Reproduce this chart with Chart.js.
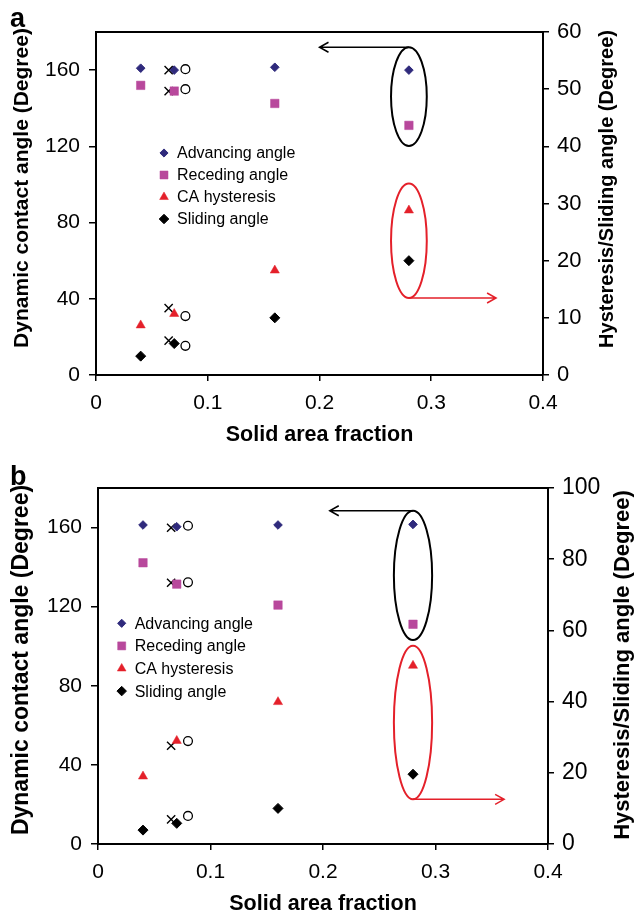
<!DOCTYPE html>
<html>
<head>
<meta charset="utf-8">
<script src="https://cdn.jsdelivr.net/npm/chart.js@4.4.0/dist/chart.umd.min.js"></script>
<style>
html, body { margin: 0; padding: 0; width: 634px; height: 912px; overflow: hidden; background: #fff; }
canvas { position: absolute; left: 0; }
</style>
</head>
<body>
<canvas id="chartA" width="634" height="450" style="top:0;width:634px;height:450px"></canvas>
<canvas id="chartB" width="634" height="480" style="top:450px;width:634px;height:480px"></canvas>
<script>
const FONT = '"Liberation Sans", Arial, Helvetica, sans-serif';
const NAVY = '#2f2a7c', PINK = '#b8489c', RED = '#e4202a', BLACK = '#000';

// panel a
const fractionA = [0.04, 0.07, 0.16, 0.28];
const advancingA = [161, 160, 161.5, 160];
const recedingA = [152, 149, 142.5, 131];
const hysteresisA = [8.7, 10.7, 18.3, 28.8];   // right axis
const slidingA = [3.3, 5.5, 10, 20];           // right axis
const crossXA = 0.065, crossLeftA = [160, 149], crossRightA = [11.7, 6];
const circleXA = 0.08, circleLeftA = [160.5, 150], circleRightA = [10.3, 5.1];

// panel b
const fractionB = [0.04, 0.07, 0.16, 0.28];
const advancingB = [161.3, 160.4, 161.3, 161.6];
const recedingB = [142.2, 131.4, 120.8, 111.1];
const hysteresisB = [19, 29, 39.9, 50.1];
const slidingB = [3.9, 5.8, 10, 19.6];
const crossXB = 0.065, crossLeftB = [159.9, 132.1], crossRightB = [27.6, 6.9];
const circleXB = 0.08, circleLeftB = [160.9, 132.3], circleRightB = [28.9, 7.9];

const xTicks = [0, 0.1, 0.2, 0.3, 0.4];
const legendNames = ['Advancing angle', 'Receding angle', 'CA hysteresis', 'Sliding angle'];
const leftTitle = 'Dynamic contact angle (Degree)';
const rightTitle = 'Hysteresis/Sliding angle (Degree)';

function pts(xs, ys) {
  return ys.map((y, i) => ({x: Array.isArray(xs) ? xs[i] : xs, y: y}));
}

function buildChart(id, p) {
  const datasets = [
    {label: legendNames[0], data: pts(p.fraction, p.advancing), yAxisID: 'y', pointStyle: 'rectRot', pointRadius: 4.3, backgroundColor: NAVY, borderColor: NAVY, borderWidth: 1},
    {label: legendNames[1], data: pts(p.fraction, p.receding), yAxisID: 'y', pointStyle: 'rect', pointRadius: 6, backgroundColor: PINK, borderColor: PINK, borderWidth: 0.5},
    {label: legendNames[2], data: pts(p.fraction, p.hysteresis), yAxisID: 'y1', pointStyle: 'triangle', pointRadius: 5.3, backgroundColor: RED, borderColor: RED, borderWidth: 0.5},
    {label: legendNames[3], data: pts(p.fraction, p.sliding), yAxisID: 'y1', pointStyle: 'rectRot', pointRadius: 5, backgroundColor: BLACK, borderColor: BLACK, borderWidth: 1},
    {label: '', data: pts(p.crossX, p.crossLeft), yAxisID: 'y', pointStyle: 'crossRot', pointRadius: 5.8, borderColor: BLACK, borderWidth: 1.4},
    {label: '', data: pts(p.crossX, p.crossRight), yAxisID: 'y1', pointStyle: 'crossRot', pointRadius: 5.8, borderColor: BLACK, borderWidth: 1.4},
    {label: '', data: pts(p.circleX, p.circleLeft), yAxisID: 'y', pointStyle: 'circle', pointRadius: 4.4, backgroundColor: '#fff', borderColor: BLACK, borderWidth: 1.3},
    {label: '', data: pts(p.circleX, p.circleRight), yAxisID: 'y1', pointStyle: 'circle', pointRadius: 4.4, backgroundColor: '#fff', borderColor: BLACK, borderWidth: 1.3}
  ];

  const tickGrid = len => ({drawOnChartArea: false, drawTicks: true, tickLength: len, color: BLACK, lineWidth: 1.5});
  const border = {display: true, color: BLACK, width: 2};

  // frame, vertical titles, rings, arrows, legend and panel letter
  const extras = {
    id: 'extras',
    afterDatasetsDraw(chart) {
      const {ctx, chartArea: ca, scales: {x, y}} = chart;
      ctx.save();
      ctx.strokeStyle = BLACK;
      ctx.lineWidth = 2;
      ctx.beginPath();
      ctx.moveTo(ca.left - 1, ca.top);
      ctx.lineTo(ca.right + 1, ca.top);
      ctx.stroke();

      function vText(text, size, cx, cy) {
        ctx.save();
        ctx.translate(cx, cy);
        ctx.rotate(-Math.PI / 2);
        ctx.font = 'bold ' + size + 'px ' + FONT;
        ctx.fillStyle = BLACK;
        ctx.textAlign = 'center';
        ctx.textBaseline = 'middle';
        ctx.fillText(text, 0, 0);
        ctx.restore();
      }
      vText(leftTitle, p.leftTitle.size, p.leftTitle.x, p.leftTitle.y);
      vText(rightTitle, p.rightTitle.size, p.rightTitle.x, p.rightTitle.y);

      const cx = x.getPixelForValue(p.ringX);
      const rx = x.getPixelForValue(p.ringX + p.ringHalfW) - cx;
      function ring(range, color) {
        const t = y.getPixelForValue(range[0]), b = y.getPixelForValue(range[1]);
        ctx.strokeStyle = color;
        ctx.lineWidth = 2;
        ctx.beginPath();
        ctx.ellipse(cx, (t + b) / 2, rx, (b - t) / 2, 0, 0, Math.PI * 2);
        ctx.stroke();
        return [t, b];
      }
      function arrow(x0, x1, yy, color) {
        const dir = x1 < x0 ? 1 : -1;
        ctx.strokeStyle = color;
        ctx.lineWidth = 1.5;
        ctx.beginPath();
        ctx.moveTo(x0, yy);
        ctx.lineTo(x1, yy);
        ctx.moveTo(x1 + dir * 9, yy - 5);
        ctx.lineTo(x1, yy);
        ctx.lineTo(x1 + dir * 9, yy + 5);
        ctx.stroke();
      }
      const blk = ring(p.blackRing, BLACK);
      const red = ring(p.redRing, RED);
      arrow(cx, x.getPixelForValue(p.leftArrowTo), blk[0], BLACK);
      arrow(cx, x.getPixelForValue(p.rightArrowTo), red[1], RED);

      ctx.font = '16px ' + FONT;
      ctx.textBaseline = 'middle';
      ctx.textAlign = 'left';
      for (let i = 0; i < 4; i++) {
        const ds = chart.data.datasets[i];
        const ly = p.legend.y + i * p.legend.gap;
        ctx.fillStyle = ds.backgroundColor;
        ctx.strokeStyle = ds.borderColor;
        ctx.lineWidth = ds.borderWidth;
        Chart.helpers.drawPoint(ctx, {pointStyle: ds.pointStyle, radius: ds.pointRadius * 0.95, borderWidth: ds.borderWidth, rotation: 0}, p.legend.x, ly);
        ctx.fillStyle = BLACK;
        ctx.fillText(ds.label, p.legend.x + 13, ly + 1);
      }

      ctx.font = 'bold 27px ' + FONT;
      ctx.textBaseline = 'alphabetic';
      ctx.fillStyle = BLACK;
      ctx.fillText(p.tag, 10, p.tagY);
      ctx.restore();
    }
  };

  return new Chart(document.getElementById(id), {
    type: 'scatter',
    data: {datasets: datasets},
    options: {
      responsive: false,
      animation: false,
      layout: {padding: {top: p.box.top, left: 0, right: 0, bottom: 0}},
      plugins: {legend: {display: false}, tooltip: {enabled: false}},
      scales: {
        x: {
          type: 'linear', position: 'bottom', min: 0, max: 0.4,
          afterFit: s => { s.height = p.box.bottom; },
          afterBuildTicks: s => { s.ticks = xTicks.map(v => ({value: v})); },
          ticks: {color: BLACK, font: {family: FONT, size: 21}, padding: 10, callback: v => String(+v.toFixed(1))},
          grid: tickGrid(6),
          border: border,
          title: {display: true, text: 'Solid area fraction', color: BLACK, font: {family: FONT, size: 21.5, weight: 'bold', lineHeight: 1}, padding: {top: 0, bottom: p.xTitlePad}}
        },
        y: {
          type: 'linear', position: 'left', min: 0, max: 180,
          afterFit: s => { s.width = p.box.left; },
          ticks: {stepSize: 40, includeBounds: false, color: BLACK, font: {family: FONT, size: 21}, padding: 9},
          grid: tickGrid(7),
          border: border
        },
        y1: {
          type: 'linear', position: 'right', min: 0, max: p.rightMax,
          afterFit: s => { s.width = p.box.right; },
          ticks: {stepSize: p.rightStep, color: BLACK, font: {family: FONT, size: p.rightTickSize}, padding: 8},
          grid: tickGrid(6),
          border: border
        }
      }
    },
    plugins: [extras]
  });
}

buildChart('chartA', {
  fraction: fractionA, advancing: advancingA, receding: recedingA, hysteresis: hysteresisA, sliding: slidingA,
  crossX: crossXA, crossLeft: crossLeftA, crossRight: crossRightA,
  circleX: circleXA, circleLeft: circleLeftA, circleRight: circleRightA,
  box: {left: 96, right: 91, top: 32, bottom: 75},
  rightMax: 60, rightStep: 10, rightTickSize: 22,
  leftTitle: {size: 21, x: 22, y: 188}, rightTitle: {size: 20, x: 607, y: 189}, xTitlePad: 4.3,
  ringX: 0.28, ringHalfW: 0.016, blackRing: [172, 120.2], redRing: [100.5, 40.4],
  leftArrowTo: 0.2, rightArrowTo: 0.358,
  legend: {x: 164, y: 153, gap: 22}, tag: 'a', tagY: 27
});

buildChart('chartB', {
  fraction: fractionB, advancing: advancingB, receding: recedingB, hysteresis: hysteresisB, sliding: slidingB,
  crossX: crossXB, crossLeft: crossLeftB, crossRight: crossRightB,
  circleX: circleXB, circleLeft: circleLeftB, circleRight: circleRightB,
  box: {left: 98, right: 86, top: 38, bottom: 86},
  rightMax: 100, rightStep: 20, rightTickSize: 23,
  leftTitle: {size: 23, x: 22, y: 210}, rightTitle: {size: 22, x: 623, y: 215}, xTitlePad: 15,
  ringX: 0.28, ringHalfW: 0.017, blackRing: [168.5, 103.1], redRing: [100.3, 22.6],
  leftArrowTo: 0.206, rightArrowTo: 0.361,
  legend: {x: 121.7, y: 173.3, gap: 22.6}, tag: 'b', tagY: 35
});
</script>
</body>
</html>
